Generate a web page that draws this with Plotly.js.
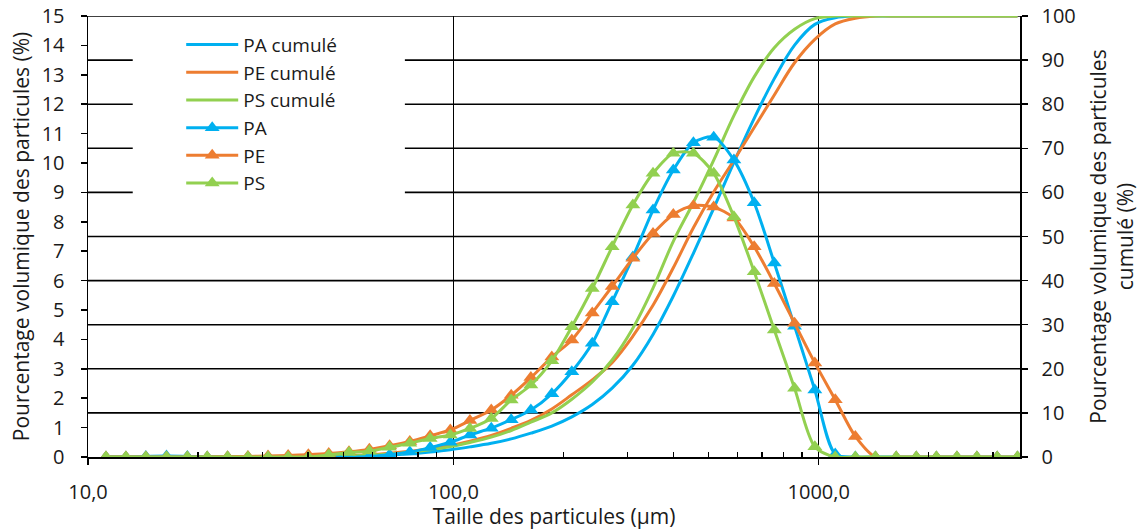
<!DOCTYPE html>
<html>
<head>
<meta charset="utf-8">
<script src="https://cdn.plot.ly/plotly-3.0.1.min.js"></script>
<style>html,body{margin:0;padding:0;background:#fff;}#chart{width:1143px;height:530px;}</style>
</head>
<body>
<div id="chart"></div>
<script>
// Particle size classes (µm)
const sizes = [11.2, 12.7, 14.4, 16.4, 18.7, 21.2, 24.1, 27.4, 31.1, 35.3, 40.1, 45.6, 51.8, 58.9, 66.9, 76.0, 86.4, 98.1,
  111, 127, 144, 163, 186, 211, 240, 272, 310, 352, 400, 454, 516, 586, 666, 756, 859, 976,
  1110, 1260, 1430, 1630, 1850, 2100, 2390, 2710, 3080, 3500];

// Volume distribution (%) – left axis
const PA = [0, 0, 0.02, 0.03, 0.02, 0, 0, 0, 0, 0, 0, 0, 0, 0.02, 0.08, 0.17, 0.32, 0.5,
  0.75, 0.98, 1.27, 1.6, 2.15, 2.9, 3.87, 5.28, 6.8, 8.4, 9.76, 10.69, 10.88, 10.1, 8.65, 6.6, 4.45, 2.28,
  0.1, 0, 0, 0, 0, 0, 0, 0, 0, 0];
const PE = [0, 0, 0, 0, 0, 0, 0.01, 0.02, 0.03, 0.05, 0.08, 0.12, 0.18, 0.26, 0.38, 0.53, 0.72, 0.92,
  1.24, 1.6, 2.1, 2.7, 3.4, 3.98, 4.9, 5.8, 6.76, 7.6, 8.25, 8.55, 8.5, 8.13, 7.15, 5.9, 4.55, 3.2,
  1.95, 0.7, 0, 0, 0, 0, 0, 0, 0, 0];
const PS = [0, 0, 0, 0, 0, 0, 0, 0, 0, 0, 0, 0.07, 0.15, 0.2, 0.33, 0.47, 0.63, 0.75,
  0.97, 1.31, 1.94, 2.45, 3.27, 4.43, 5.73, 7.15, 8.57, 9.65, 10.33, 10.33, 9.65, 8.17, 6.3, 4.32, 2.34, 0.35,
  0, 0, 0, 0, 0, 0, 0, 0, 0, 0];

// Cumulative volume (%) – right axis
const PA_cum = [0, 0, 0, 0, 0, 0, 0, 0, 0, 0, 0.02, 0.05, 0.12, 0.25, 0.45, 0.75, 1.15, 1.65,
  2.3, 3.1, 4.1, 5.4, 7.0, 9.1, 11.9, 15.6, 20.8, 27.8, 36.5, 46.2, 56.4, 66.8, 76.8, 85.8, 93.4, 98.1,
  99.6, 100, 100, 100, 100, 100, 100, 100, 100, 100];
const PE_cum = [0, 0, 0, 0, 0, 0, 0, 0, 0.01, 0.03, 0.07, 0.15, 0.3, 0.5, 0.85, 1.3, 1.85, 2.6,
  3.6, 4.9, 6.5, 8.3, 10.9, 14.1, 17.5, 21.4, 27.4, 34.4, 42.9, 52.0, 60.1, 67.3, 74.7, 82.1, 89.4, 94.7,
  98.2, 99.5, 100, 100, 100, 100, 100, 100, 100, 100];
const PS_cum = [0, 0, 0, 0, 0, 0, 0, 0, 0, 0, 0.03, 0.1, 0.22, 0.42, 0.7, 1.1, 1.65, 2.35,
  3.3, 4.5, 6.0, 7.9, 10.0, 13.1, 17.0, 22.0, 29.2, 38.3, 48.9, 57.7, 67.3, 77.4, 86.2, 92.8, 97.0, 99.4,
  100, 100, 100, 100, 100, 100, 100, 100, 100, 100];

const xTickVals = [10, 100, 1000];
const xTickText = ['10,0', '100,0', '1000,0'];
const xMinorVals = [20, 30, 40, 50, 60, 70, 80, 90, 200, 300, 400, 500, 600, 700, 800, 900, 2000, 3000];
const cumGridVals = [10, 20, 30, 40, 50, 60, 70, 80, 90, 100];

const names = ['PA cumulé', 'PE cumulé', 'PS cumulé', 'PA', 'PE', 'PS'];
const colors = {PA: '#00B0F0', PE: '#ED7D31', PS: '#92D050'};
const FONT = 'Open Sans, Lato, sans-serif';
const TXT = '#1a1a1a';
const TICK = 20, TITLE = 21;

function cumTrace(name, y, c) {
  return {x: sizes, y: y, name: name, type: 'scatter', mode: 'lines', yaxis: 'y',
    line: {color: c, width: 3, shape: 'spline', smoothing: 1}, hoverinfo: 'x+y'};
}
function distTrace(name, y, c) {
  return {x: sizes, y: y, name: name, type: 'scatter', mode: 'lines+markers', yaxis: 'y2',
    line: {color: c, width: 3, shape: 'spline', smoothing: 0.8},
    marker: {symbol: 'triangle-up', size: 13, color: c, line: {width: 0}}, hoverinfo: 'x+y'};
}

const data = [
  cumTrace(names[0], PA_cum, colors.PA),
  cumTrace(names[1], PE_cum, colors.PE),
  cumTrace(names[2], PS_cum, colors.PS),
  distTrace(names[3], PA, colors.PA),
  distTrace(names[4], PE, colors.PE),
  distTrace(names[5], PS, colors.PS)
];

const axisCommon = {
  ticks: 'outside', ticklen: 6, tickwidth: 1.5, tickcolor: '#000',
  showline: true, linecolor: '#000', linewidth: 1.5, zeroline: false,
  tickfont: {family: FONT, size: TICK, color: TXT}
};

// horizontal gridlines of the cumulative (right) axis, then the legend's white box over them
const shapes = cumGridVals.map(v => ({type: 'line', xref: 'paper', yref: 'y', x0: 0, x1: 1, y0: v, y1: v,
  line: {color: '#000', width: 1.6}, layer: 'below'}));
shapes.push({type: 'rect', xref: 'paper', yref: 'paper', x0: 0.048, x1: 0.340, y0: 0.595, y1: 0.968,
  fillcolor: '#fff', line: {width: 0}, layer: 'below'});

const layout = {
  width: 1143, height: 530,
  margin: {l: 88, r: 123, t: 16, b: 73, pad: 0},
  paper_bgcolor: '#fff', plot_bgcolor: 'rgba(0,0,0,0)',
  font: {family: FONT, size: TICK, color: TXT},
  showlegend: true,
  legend: {x: 0.1, y: 0.978, xanchor: 'left', yanchor: 'top', bgcolor: 'rgba(0,0,0,0)',
    borderwidth: 0, font: {family: FONT, size: 19, color: TXT}, itemwidth: 52, traceorder: 'normal'},
  xaxis: Object.assign({}, axisCommon, {
    type: 'log', range: [1, 3.551],
    tickmode: 'array', tickvals: xTickVals, ticktext: xTickText,
    ticklabelstandoff: 10,
    showgrid: true, gridcolor: '#000', gridwidth: 1.6,
    minor: {tickmode: 'array', tickvals: xMinorVals, ticks: 'inside', ticklen: 5, tickwidth: 1.3, tickcolor: '#000', showgrid: false},
    title: {text: 'Taille des particules (µm)', font: {family: FONT, size: TITLE, color: TXT}, standoff: 4}
  }),
  yaxis: Object.assign({}, axisCommon, {
    side: 'right', range: [0, 100], dtick: 10, tick0: 0,
    ticklabelstandoff: 10,
    showgrid: false,
    title: {text: 'Pourcentage volumique des particules<br>cumulé (%)', font: {family: FONT, size: TITLE, color: TXT}, standoff: 16}
  }),
  yaxis2: Object.assign({}, axisCommon, {
    overlaying: 'y', side: 'left', range: [0, 15], dtick: 1, tick0: 0,
    ticklabelstandoff: 12,
    showgrid: false,
    title: {text: 'Pourcentage volumique des particules (%)', font: {family: FONT, size: TITLE, color: TXT}, standoff: 6}
  }),
  shapes: shapes
};

Plotly.newPlot('chart', data, layout, {displayModeBar: false, staticPlot: true});
</script>
</body>
</html>
